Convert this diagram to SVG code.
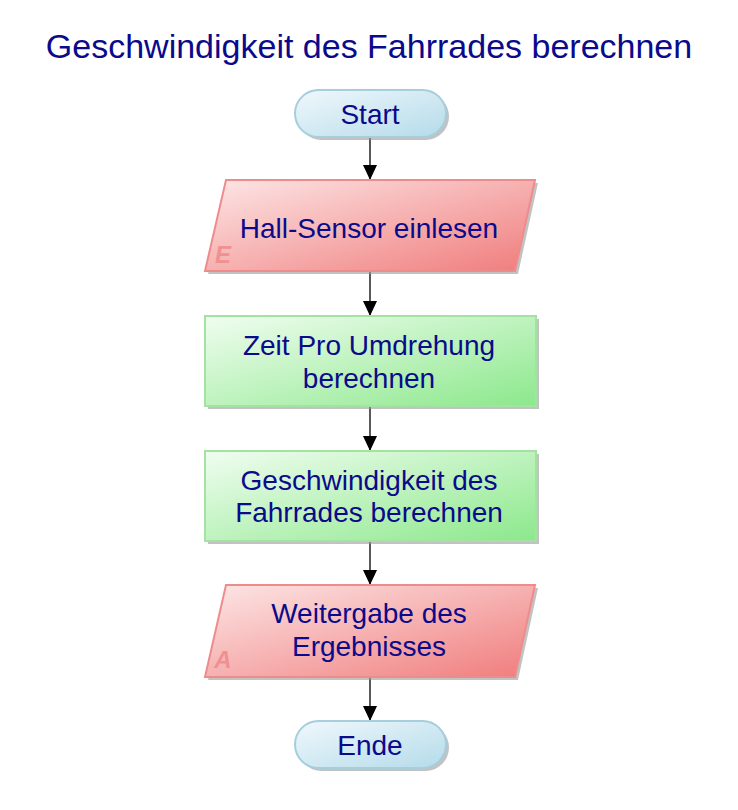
<svg xmlns="http://www.w3.org/2000/svg" width="738" height="810" viewBox="0 0 738 810">
<defs>
<linearGradient id="gTerm" x1="0" y1="0" x2="1" y2="1">
<stop offset="0" stop-color="#f0f8fc"/><stop offset="1" stop-color="#b4dbea"/>
</linearGradient>
<linearGradient id="gIO" x1="0" y1="0" x2="1" y2="1">
<stop offset="0" stop-color="#fde6e6"/><stop offset="1" stop-color="#f07c7c"/>
</linearGradient>
<linearGradient id="gProc" x1="0" y1="0" x2="1" y2="1">
<stop offset="0" stop-color="#f0fdf0"/><stop offset="1" stop-color="#8ce88c"/>
</linearGradient>
<marker id="arr" markerWidth="16" markerHeight="16" refX="15" refY="8" orient="auto" markerUnits="userSpaceOnUse">
<path d="M0,1 L15,8 L0,15 Z" fill="#000"/>
</marker>
</defs>
<style>
.t{font-family:"Liberation Sans",Arial,sans-serif;fill:#0a0a8a;text-anchor:middle}
.lbl{font-size:28px}
.shadow{fill:#9a9a9a;opacity:0.6}
.term{fill:url(#gTerm);stroke:#a6cedd;stroke-width:2}
.io{fill:url(#gIO);stroke:#ee8c8c;stroke-width:2}
.proc{fill:url(#gProc);stroke:#a4e2a4;stroke-width:2}
.tag{font-family:"Liberation Sans",Arial,sans-serif;font-size:24px;font-weight:bold;font-style:italic;fill:#f09090}
.conn{stroke:#000;stroke-width:1.3;fill:none}
</style>
<rect width="738" height="810" fill="#fff"/>
<text class="t" x="369" y="58" font-size="34">Geschwindigkeit des Fahrrades berechnen</text>
<g id="connectors">
<line class="conn" x1="370" y1="137" x2="370" y2="180" marker-end="url(#arr)"/>
<line class="conn" x1="370" y1="271" x2="370" y2="316" marker-end="url(#arr)"/>
<line class="conn" x1="370" y1="406" x2="370" y2="451" marker-end="url(#arr)"/>
<line class="conn" x1="370" y1="541" x2="370" y2="585" marker-end="url(#arr)"/>
<line class="conn" x1="370" y1="677" x2="370" y2="721" marker-end="url(#arr)"/>
</g>
<g id="start">
<rect class="shadow" x="298" y="93" width="151" height="47" rx="23.5"/>
<rect class="term" x="295" y="90" width="151" height="47" rx="23.5"/>
<text class="t lbl" x="370" y="124">Start</text>
</g>
<g id="hall">
<polygon class="shadow" points="229,183 538,183 518,274 208,274"/>
<polygon class="io" points="226,180 535,180 515,271 205,271"/>
<text class="tag" x="223" y="263" text-anchor="middle">E</text>
<text class="t lbl" x="369" y="238">Hall-Sensor einlesen</text>
</g>
<g id="zeit">
<rect class="shadow" x="208" y="319" width="331" height="90"/>
<rect class="proc" x="205" y="316" width="331" height="90"/>
<text class="t lbl" x="369" y="355">Zeit Pro Umdrehung</text>
<text class="t lbl" x="369" y="388">berechnen</text>
</g>
<g id="geschw">
<rect class="shadow" x="208" y="454" width="331" height="90"/>
<rect class="proc" x="205" y="451" width="331" height="90"/>
<text class="t lbl" x="369" y="490">Geschwindigkeit des</text>
<text class="t lbl" x="369" y="522">Fahrrades berechnen</text>
</g>
<g id="weiter">
<polygon class="shadow" points="229,588 538,588 518,680 208,680"/>
<polygon class="io" points="226,585 535,585 515,677 205,677"/>
<text class="tag" x="223" y="668" text-anchor="middle">A</text>
<text class="t lbl" x="369" y="623">Weitergabe des</text>
<text class="t lbl" x="369" y="656">Ergebnisses</text>
</g>
<g id="ende">
<rect class="shadow" x="298" y="724" width="151" height="47" rx="23.5"/>
<rect class="term" x="295" y="721" width="151" height="47" rx="23.5"/>
<text class="t lbl" x="370" y="755">Ende</text>
</g>
</svg>
